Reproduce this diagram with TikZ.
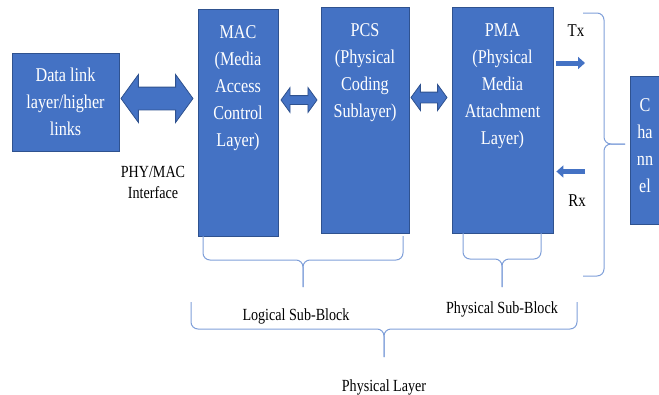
\documentclass[tikz,border=0pt]{standalone}
\usepackage{fontspec}
\setmainfont{Liberation Serif}[FakeStretch=0.83]
\usetikzlibrary{shapes.arrows, arrows.meta, positioning, calc}
\definecolor{blockfill}{HTML}{4472C4}
\definecolor{blockline}{HTML}{2F528F}
\definecolor{bracecol}{HTML}{7F9FD9}
\tikzset{
   myblock/.style={draw=blockline, fill=blockfill, line width=.8pt, inner sep=0pt},
   myblocktext/.style={text=white, align=center, font=\fontsize{19.5}{27}\selectfont, inner sep=0pt},
   mylabel/.style={align=center, font=\fontsize{17}{21}\selectfont, inner sep=0pt},
   mytx/.style={font=\fontsize{18}{21}\selectfont, inner sep=0pt, anchor=base},
   mydarrow/.style={double arrow, draw=blockline, fill=blockfill, line width=.8pt, inner xsep=0pt, double arrow tip angle=108},
   mysig/.style={blockfill, line width=5pt, -{Triangle[length=7pt,width=12pt]}},
   mybrace/.style={draw=bracecol, line width=1pt, rounded corners=7pt}
}
% brace opening up: x1, x2, top of ends, line, tip
\newcommand{\downbrace}[5]{%
  \draw[mybrace] (#1,#3) -- (#1,#4) -- ({(#1+#2)/2},#4) -- ({(#1+#2)/2},#5);
  \draw[mybrace] (#2,#3) -- (#2,#4) -- ({(#1+#2)/2},#4) -- ({(#1+#2)/2},#5);
}

\begin{document}
\begin{tikzpicture}[x=1pt, y=-1pt]
  \useasboundingbox (0,0) rectangle (659,394);

  % blocks
  \node[myblock, myblocktext, minimum width=107pt, minimum height=98pt] (dl) at (65.5,102) {Data link\\layer/higher\\links};
  \node[myblock, minimum width=80pt, minimum height=227pt] (mac) at (238,122.5) {};
  \node[myblock, minimum width=88pt, minimum height=226pt] (pcs) at (365,120) {};
  \node[myblock, minimum width=101pt, minimum height=226pt] (pma) at (502.5,120) {};
  \node[myblock, minimum width=30pt, minimum height=148pt] (chan) at (645,150) {};

  \node[myblocktext, below=16.6pt of mac.north] (mactext) {MAC\\(Media\\Access\\Control\\Layer)};
  \node[myblocktext, below=16.6pt of pcs.north] (pcstext) {PCS\\(Physical\\Coding\\Sublayer)};
  \node[myblocktext, below=16.6pt of pma.north] (pmatext) {PMA\\(Physical\\Media\\Attachment\\Layer)};
  \node[myblocktext, below=22.6pt of chan.north] (chantext) {C\\ha\\nn\\el};

  % block arrows between the layers
  \node[mydarrow, minimum height=72pt, minimum width=47pt, inner ysep=11pt, double arrow head extend=12.5pt] (dlmac) at (157,98.5) {};
  \node[mydarrow, minimum height=36pt, minimum width=24pt, inner ysep=4pt, double arrow head extend=8pt] (macpcs) at (299,100) {};
  \node[mydarrow, minimum height=36pt, minimum width=25pt, inner ysep=5pt, double arrow head extend=7.5pt] (pcspma) at (429,97.5) {};

  % Tx / Rx
  \coordinate (txend) at (585,63);
  \coordinate (rxstart) at (585,171.5);
  \draw[mysig] ($(pma.east |- txend)+(3,0)$) -- (txend);
  \draw[mysig] (rxstart) -- ($(pma.east |- rxstart)+(3,0)$);
  \node[mytx] (tx) at (576,36) {Tx};
  \node[mytx] (rx) at (577,206) {Rx};

  % braces
  \draw[mybrace] (583,13) -- (604,13) -- (604,144) -- (625,144);
  \draw[mybrace] (583,276) -- (604,276) -- (604,144) -- (625,144);
  \downbrace{203}{403}{236}{260}{287}
  \downbrace{463}{541}{233}{259}{287}
  \downbrace{191}{577}{302}{329}{357}

  % labels
  \node[mylabel] (phymac) at (153,182) {PHY/MAC\\Interface};
  \node[mylabel, anchor=base] (logical) at (296,320) {Logical Sub-Block};
  \node[mylabel, anchor=base] (physub) at (502,313) {Physical Sub-Block};
  \node[mylabel, anchor=base] (phylayer) at (384,391) {Physical Layer};
\end{tikzpicture}
\end{document}
